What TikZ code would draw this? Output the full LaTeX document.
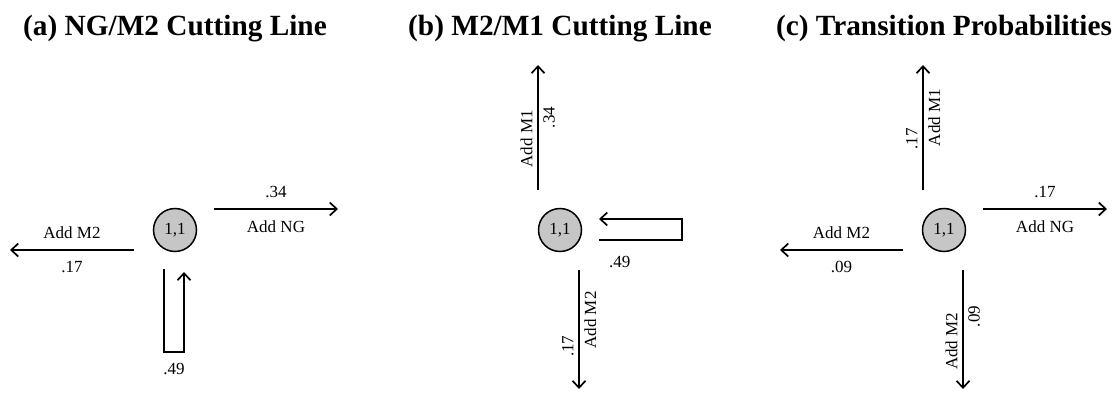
\documentclass[tikz,border=0pt]{standalone}
\usepackage{fontspec}
\setmainfont{Liberation Serif}
\usetikzlibrary{arrows.meta, positioning}
\definecolor{stategray}{RGB}{198,198,198}

\begin{document}
\begin{tikzpicture}[
      x=1pt, y=1pt,
      state/.style={circle, draw, line width=1.5pt, fill=stategray, minimum size=43pt, inner sep=0pt, font=\fontsize{17}{20}\selectfont},
      flow/.style={-{Straight Barb[length=7pt,width=13pt]}, line width=1.7pt},
      hlbl/.style={inner sep=10.5pt, font=\fontsize{17}{20}\selectfont},
      vlbl/.style={rotate=90, inner sep=4.5pt, font=\fontsize{17}{20}\selectfont},
      ptitle/.style={anchor=base, font=\fontsize{29.3}{34}\selectfont\bfseries}
      ]
      \useasboundingbox (0,0) rectangle (1115,392);

      % Titles
      \node[ptitle] (ttlA) at (175,356) {(a) NG/M2 Cutting Line};
      \node[ptitle] (ttlB) at (560,356) {(b) M2/M1 Cutting Line};
      \node[ptitle] (ttlC) at (944,356) {(c) Transition Probabilities};

      % Nodes
      \node[state] (ncA) at (175,162) {1,1};
      \node[state] (ncB) at (560,162) {1,1};
      \node[state] (ncC) at (944,162) {1,1};

      % Arrow ends
      \coordinate (aR1) at (214,183); \coordinate (aR2) at (338,183);
      \coordinate (aL1) at (134,142); \coordinate (aL2) at (10,142);
      \coordinate (aS1) at (164,123); \coordinate (aS2) at (184,120);
      \coordinate (bU1) at (538,202); \coordinate (bU2) at (538,327);
      \coordinate (bD1) at (579,122); \coordinate (bD2) at (579,3);
      \coordinate (bS1) at (599,152); \coordinate (bS2) at (599,173);
      \coordinate (cU1) at (923,202); \coordinate (cU2) at (923,327);
      \coordinate (cR1) at (983,183); \coordinate (cR2) at (1107,183);
      \coordinate (cL1) at (903,142); \coordinate (cL2) at (780,142);
      \coordinate (cD1) at (963,122); \coordinate (cD2) at (963,3);

      % Arrows (a)
      \draw[flow] (aR1) -- node[hlbl, above] {.34} node[hlbl, below] {Add NG} (aR2);
      \draw[flow] (aL1) -- node[hlbl, above] {Add M2} node[hlbl, below] {.17} (aL2);
      \draw[flow] (aS1) -- ++(0,-83) -- node[hlbl, below] {.49} ++(20,0) -- (aS2);

      % Arrows (b)
      \draw[flow] (bU1) -- node[vlbl, above, pos=.41] {Add M1} node[vlbl, below, pos=.58] {.34} (bU2);
      \draw[flow] (bD1) -- node[vlbl, below, pos=.42] {Add M2} node[vlbl, above, pos=.64] {.17} (bD2);
      \draw[flow] (bS1) -- node[hlbl, below, pos=.25, yshift=-5pt] {.49} ++(83,0) -- ++(0,21) -- (bS2);

      % Arrows (c)
      \draw[flow] (cU1) -- node[vlbl, above, pos=.41] {.17} node[vlbl, below, pos=.58] {Add M1} (cU2);
      \draw[flow] (cR1) -- node[hlbl, above] {.17} node[hlbl, below] {Add NG} (cR2);
      \draw[flow] (cL1) -- node[hlbl, above] {Add M2} node[hlbl, below] {.09} (cL2);
      \draw[flow] (cD1) -- node[vlbl, above, pos=.60] {Add M2} node[vlbl, below, pos=.39] {.09} (cD2);
    \end{tikzpicture}
\end{document}
